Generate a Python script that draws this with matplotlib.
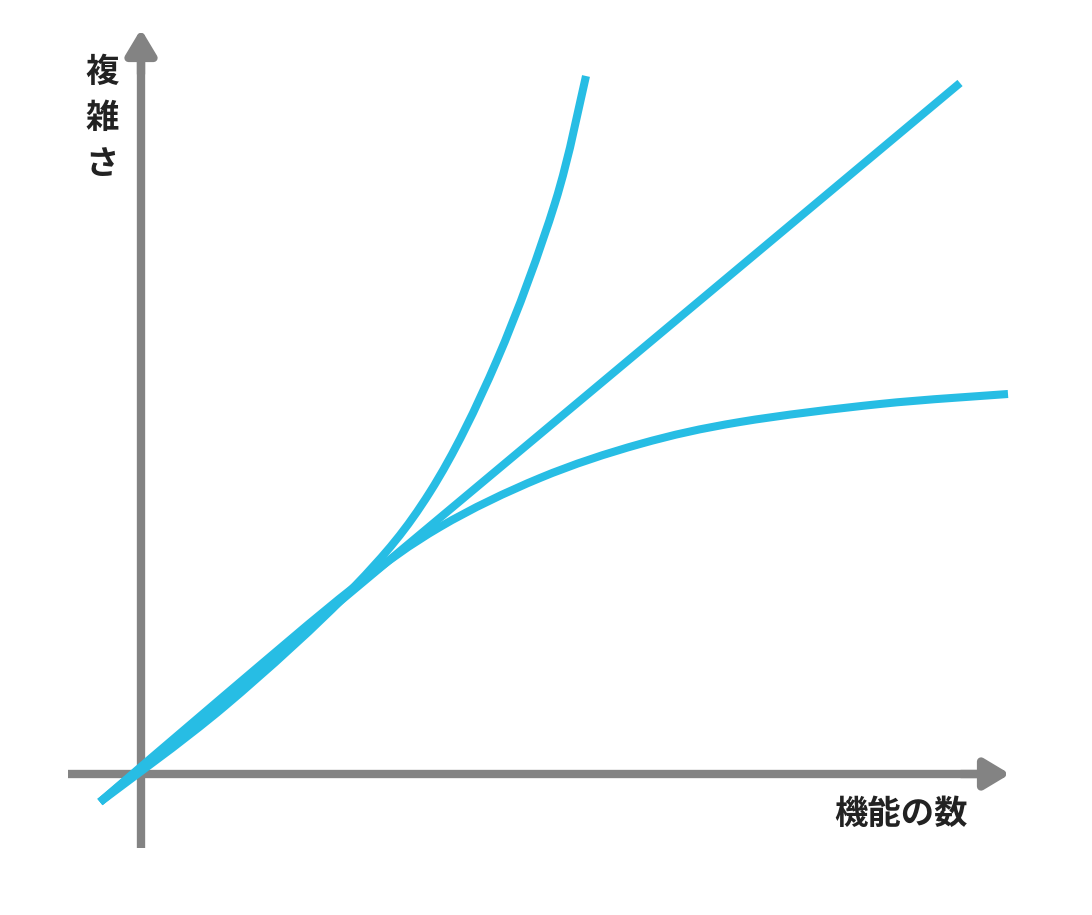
import matplotlib
matplotlib.use("Agg")
import matplotlib.pyplot as plt
from matplotlib.path import Path
from matplotlib.patches import PathPatch
import numpy as np

plt.rcParams['font.family'] = ['Noto Sans CJK JP', 'DejaVu Sans']

# Data (arbitrary units: number of features vs complexity)
linear_x = [-41, 819]
linear_y = [-28, 691]

exp_x = [-41, 84, 212, 289, 356, 414, 445]
exp_y = [-28, 68, 186, 282, 414, 571, 698]

log_x = [-41, 84, 212, 299, 399, 499, 599, 739, 867]
log_y = [-28, 79, 186, 247, 296, 330, 352, 370, 380]

x_label = "機能の数"
y_label = "複雑さ"

blue = "#27BDE4"
gray = "#838383"


def smooth_path(xs, ys):
    pts = np.column_stack([xs, ys]).astype(float)
    n = len(pts)
    verts = [pts[0]]
    codes = [Path.MOVETO]
    for i in range(n - 1):
        p0 = pts[max(i - 1, 0)]
        p1 = pts[i]
        p2 = pts[i + 1]
        p3 = pts[min(i + 2, n - 1)]
        c1 = p1 + (p2 - p0) / 6.0
        c2 = p2 - (p3 - p1) / 6.0
        verts += [c1, c2, p2]
        codes += [Path.CURVE4] * 3
    return Path(verts, codes)


fig = plt.figure(figsize=(10.92, 9.15), dpi=100)
ax = fig.add_axes([0, 0, 1, 1])
ax.set_xlim(-141, 951)
ax.set_ylim(-141, 774)
ax.axis('off')

# axes with arrows
ax.plot([-73, 845], [0, 0], color=gray, lw=6, solid_capstyle='butt', zorder=1)
ax.plot([0, 0], [-74, 720], color=gray, lw=6, solid_capstyle='butt', zorder=1)
astyle = dict(arrowstyle='-|>,head_length=1.5,head_width=0.9',
              color=gray, lw=6, shrinkA=0, shrinkB=0, joinstyle='round',
              mutation_scale=10)
ax.annotate('', xy=(869, 0), xytext=(820, 0), arrowprops=astyle, zorder=1)
ax.annotate('', xy=(0, 745), xytext=(0, 700), arrowprops=astyle, zorder=1)

# curves
for xs, ys in [(linear_x, linear_y), (exp_x, exp_y), (log_x, log_y)]:
    patch = PathPatch(smooth_path(xs, ys), facecolor='none', edgecolor=blue,
                      lw=5.8, capstyle='butt', joinstyle='round', zorder=3)
    ax.add_patch(patch)

ax.text(-39, 718, "\n".join(y_label), ha='center', va='top',
        fontsize=24, fontweight='bold', color='#222222', linespacing=1.5)
ax.text(760, -40, x_label, ha='center', va='center',
        fontsize=24, fontweight='bold', color='#222222')

fig.savefig("out.png", dpi=100, facecolor='white')
